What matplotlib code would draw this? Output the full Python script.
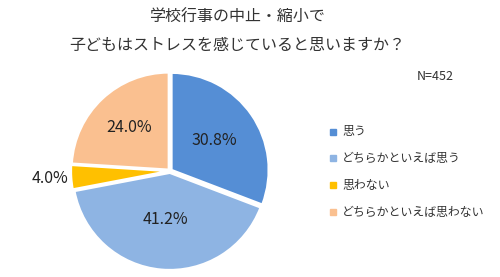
import numpy as np
import matplotlib.pyplot as plt

plt.rcParams['font.family'] = ['Noto Sans CJK JP', 'DejaVu Sans']

# data
labels = ['思う', 'どちらかといえば思う', '思わない', 'どちらかといえば思わない']
values = [30.8, 41.2, 4.0, 24.0]
colors = ['#558ED5', '#8EB4E3', '#FFC000', '#FAC090']
title_lines = ['学校行事の中止・縮小で', '子どもはストレスを感じていると思いますか？']
n_text = 'N=452'

fig = plt.figure(figsize=(5, 2.77), dpi=100)

# pie axes placed by pixel geometry (center ~ (170,171), radius ~97)
W, H = 500, 277
cx, cy, r = 170, 171, 97
pad = 1.08
ax = fig.add_axes([(cx - r * pad) / W, (H - cy - r * pad) / H, 2 * r * pad / W, 2 * r * pad / H])

wedges, _ = ax.pie(values, colors=colors, startangle=90, counterclock=False,
                   explode=[0.02] * len(values),
                   wedgeprops=dict(edgecolor='white', linewidth=1.5))
ax.set_xlim(-pad, pad)
ax.set_ylim(-pad, pad)
ax.set_aspect('equal')
ax.axis('off')

# percentage labels
dists = [0.55, 0.5, 1.24, 0.62]
for w, v, d in zip(wedges, values, dists):
    ang = np.deg2rad((w.theta1 + w.theta2) / 2)
    ax.text(d * np.cos(ang), d * np.sin(ang), f'{v:.1f}%',
            ha='center', va='center', fontsize=11.5, color='#222222')

# title
fig.text(237 / W, 1 - 17 / H, title_lines[0], ha='center', va='center', fontsize=11.5, color='#333333')
fig.text(237 / W, 1 - 45 / H, title_lines[1], ha='center', va='center', fontsize=11.5, color='#333333')
fig.text(417 / W, 1 - 76 / H, n_text, ha='left', va='center', fontsize=9, color='#333333')

# legend
ys = [132, 158, 185, 212]
for lab, c, y in zip(labels, colors, ys):
    fig.patches.append(plt.Rectangle((330 / W, 1 - (y + 3) / H), 6 / W, 6 / H,
                                     transform=fig.transFigure, color=c))
    fig.text(342 / W, 1 - y / H, lab, ha='left', va='center', fontsize=8.6, color='#333333')

fig.savefig('out.png', dpi=100)
